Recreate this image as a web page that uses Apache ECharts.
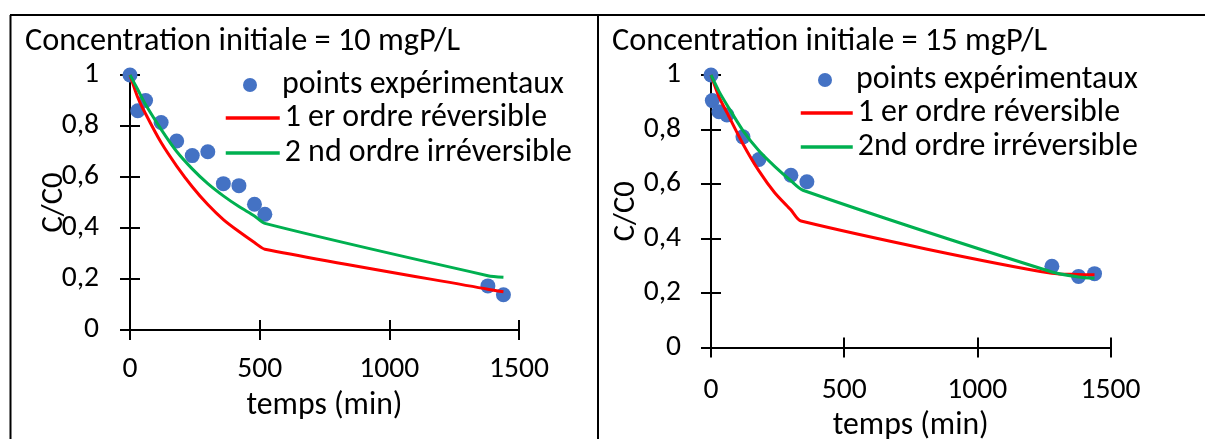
<!DOCTYPE html>
<html><head><meta charset="utf-8">
<script src="https://cdn.jsdelivr.net/npm/echarts@6/dist/echarts.min.js"></script>
<style>html,body{margin:0;padding:0;background:#fff}#c{width:1205px;height:439px}</style>
</head><body><div id="c"></div>
<script>
// ---------- DATA ----------
const panelTitles = ['Concentration initiale = 10 mgP/L', 'Concentration initiale = 15 mgP/L'];
const xAxisTitle = 'temps (min)';
const yAxisTitle = 'C/C0';
const seriesNamesLeft = ['points expérimentaux', '1 er ordre réversible', '2 nd ordre irréversible'];
const seriesNamesRight = ['points expérimentaux', '1 er ordre réversible', '2nd ordre irréversible'];
const xTicks = [0, 500, 1000, 1500];
const yTicks = [0, 0.2, 0.4, 0.6, 0.8, 1];

// Panel 1 : C0 = 10 mgP/L
const t10Exp = [0, 30, 60, 120, 180, 240, 300, 360, 420, 480, 520, 1380, 1440];
const c10Exp = [1.00, 0.86, 0.90, 0.814, 0.741, 0.684, 0.699, 0.574, 0.566, 0.493, 0.454, 0.173, 0.138];
const t10Mod = [0, 30, 60, 120, 180, 240, 300, 360, 420, 480, 520, 1380, 1440];
const c10Ord1 = [1.00, 0.912, 0.848, 0.735, 0.643, 0.562, 0.492, 0.433, 0.386, 0.343, 0.317, 0.160, 0.150];
const c10Ord2 = [1.00, 0.943, 0.884, 0.787, 0.700, 0.632, 0.574, 0.526, 0.484, 0.447, 0.418, 0.213, 0.207];

// Panel 2 : C0 = 15 mgP/L
const t15Exp = [0, 5, 30, 60, 120, 180, 300, 360, 1280, 1380, 1440];
const c15Exp = [1.00, 0.906, 0.865, 0.853, 0.773, 0.690, 0.632, 0.608, 0.298, 0.261, 0.271];
const t15Ord1 = [0, 30, 60, 120, 180, 240, 300, 338, 1280, 1380, 1440];
const c15Ord1 = [1.00, 0.920, 0.862, 0.747, 0.648, 0.567, 0.505, 0.464, 0.272, 0.268, 0.267];
const t15Ord2 = [0, 30, 60, 120, 180, 240, 300, 345, 1280, 1380, 1440];
const c15Ord2 = [1.00, 0.940, 0.890, 0.796, 0.722, 0.664, 0.612, 0.577, 0.277, 0.259, 0.254];

// ---------- STYLE ----------
const FONT = 'Carlito, Lato, sans-serif';
const ctx = document.createElement('canvas').getContext('2d');
function fit(text, w) { ctx.font = '100px ' + FONT; return 100 * w / ctx.measureText(text).width; }
const fsTitle = fit(panelTitles[0], 435);
const fsLegend = fit(seriesNamesLeft[0], 282);
const fsXName = fit(xAxisTitle, 156);
const fsTick = fit('1500', 60);
const fsYName = fit(yAxisTitle, 60);

const COL_PTS = '#4472C4', COL_R = '#FF0000', COL_G = '#00B050';
const zip = (a, b) => a.map((v, i) => [v, b[i]]);
const fmtY = v => String(+v.toFixed(1)).replace('.', ',');
const fmtX = v => String(v);

const panels = [
  { grid: { left: 130, top: 75, width: 389, height: 255 }, xMargin: 25, xGap: 60, yMargin: 31, yGap: 60,
    legend: { left: 224, rows: [81, 114, 149], w: 54 }, names: seriesNamesLeft,
    exp: zip(t10Exp, c10Exp), o1: zip(t10Mod, c10Ord1), o2: zip(t10Mod, c10Ord2) },
  { grid: { left: 711, top: 75, width: 399.5, height: 272.5 }, xMargin: 28, xGap: 63, yMargin: 30, yGap: 69,
    legend: { left: 799, rows: [76, 109, 143], w: 52 }, names: seriesNamesRight,
    exp: zip(t15Exp, c15Exp), o1: zip(t15Ord1, c15Ord1), o2: zip(t15Ord2, c15Ord2) }
];

const axisLine = { show: true, onZero: false, lineStyle: { color: '#000', width: 2 } };
const tickStyle = { color: '#000', width: 2 };
const grids = [], xAxes = [], yAxes = [], series = [], legends = [];
panels.forEach((p, gi) => {
  grids.push(Object.assign({ containLabel: false, outerBoundsMode: 'none' }, p.grid));
  const xb = { gridIndex: gi, type: 'value', min: xTicks[0], max: xTicks[xTicks.length - 1], interval: xTicks[1] - xTicks[0], position: 'bottom', splitLine: { show: false } };
  const yb = { gridIndex: gi, type: 'value', min: yTicks[0], max: yTicks[yTicks.length - 1], interval: 0.2, position: 'left', splitLine: { show: false } };
  xAxes.push(Object.assign({}, xb, {
    axisLine, axisTick: { show: true, length: 10, lineStyle: tickStyle },
    axisLabel: { margin: p.xMargin, color: '#000', fontSize: fsTick, fontFamily: FONT, formatter: fmtX, showMinLabel: true, showMaxLabel: true },
    name: xAxisTitle, nameLocation: 'middle', nameGap: p.xGap, nameMoveOverlap: false,
    nameTextStyle: { color: '#000', fontSize: fsXName, fontFamily: FONT }
  }));
  xAxes.push(Object.assign({}, xb, {
    axisLine: { show: false }, axisTick: { show: true, inside: true, length: 10, lineStyle: tickStyle }, axisLabel: { show: false }
  }));
  yAxes.push(Object.assign({}, yb, {
    axisLine, axisTick: { show: true, length: 10, lineStyle: tickStyle },
    axisLabel: { margin: p.yMargin, color: '#000', fontSize: fsTick, fontFamily: FONT, formatter: fmtY },
    name: yAxisTitle, nameLocation: 'middle', nameGap: p.yGap, nameRotate: 90, nameMoveOverlap: false,
    nameTextStyle: { color: '#000', fontSize: fsYName, fontFamily: FONT }
  }));
  yAxes.push(Object.assign({}, yb, {
    axisLine: { show: false }, axisTick: { show: true, inside: true, length: 10, lineStyle: tickStyle }, axisLabel: { show: false }
  }));
  const xi = gi * 2, yi = gi * 2;
  series.push({ type: 'scatter', name: p.names[0], xAxisIndex: xi, yAxisIndex: yi, data: p.exp,
    symbol: 'circle', symbolSize: 15, itemStyle: { color: COL_PTS, opacity: 1 }, z: 2 });
  series.push({ type: 'line', name: p.names[1], xAxisIndex: xi, yAxisIndex: yi, data: p.o1,
    symbol: 'none', showSymbol: false, smooth: 0.25, lineStyle: { color: COL_R, width: 3 }, itemStyle: { color: COL_R }, z: 3 });
  series.push({ type: 'line', name: p.names[2], xAxisIndex: xi, yAxisIndex: yi, data: p.o2,
    symbol: 'none', showSymbol: false, smooth: 0.25, lineStyle: { color: COL_G, width: 3 }, itemStyle: { color: COL_G }, z: 3 });
  p.names.forEach((n, k) => {
    const item = { name: n };
    if (k > 0) { item.itemStyle = { opacity: 0 }; item.lineStyle = { width: 3.5 }; }
    else item.icon = 'circle';
    legends.push({
      data: [item], orient: 'vertical', align: 'left',
      left: p.legend.left + (k === 0 ? 19 : 0), top: p.legend.rows[k] - fsLegend / 2 + 4,
      itemWidth: p.legend.w, itemHeight: 14, padding: 0, selectedMode: false,
      lineStyle: { width: 3.5 },
      textStyle: { color: '#000', fontSize: fsLegend, fontFamily: FONT }
    });
  });
});

const graphics = [
  { type: 'line', shape: { x1: 10, y1: 15, x2: 1205, y2: 15 }, style: { stroke: '#000', lineWidth: 2 } },
  { type: 'line', shape: { x1: 10.5, y1: 15, x2: 10.5, y2: 439 }, style: { stroke: '#000', lineWidth: 2 } },
  { type: 'line', shape: { x1: 598, y1: 15, x2: 598, y2: 439 }, style: { stroke: '#000', lineWidth: 2 } },
  { type: 'text', x: 25, y: 42, style: { text: panelTitles[0], font: fsTitle.toFixed(1) + 'px ' + FONT, fill: '#000', verticalAlign: 'middle' } },
  { type: 'text', x: 612, y: 42, style: { text: panelTitles[1], font: fsTitle.toFixed(1) + 'px ' + FONT, fill: '#000', verticalAlign: 'middle' } }
];

const chart = echarts.init(document.getElementById('c'), null, { renderer: 'canvas' });
chart.setOption({
  animation: false,
  backgroundColor: '#fff',
  textStyle: { fontFamily: FONT },
  grid: grids, xAxis: xAxes, yAxis: yAxes, series, legend: legends, graphic: graphics
});
</script></body></html>
